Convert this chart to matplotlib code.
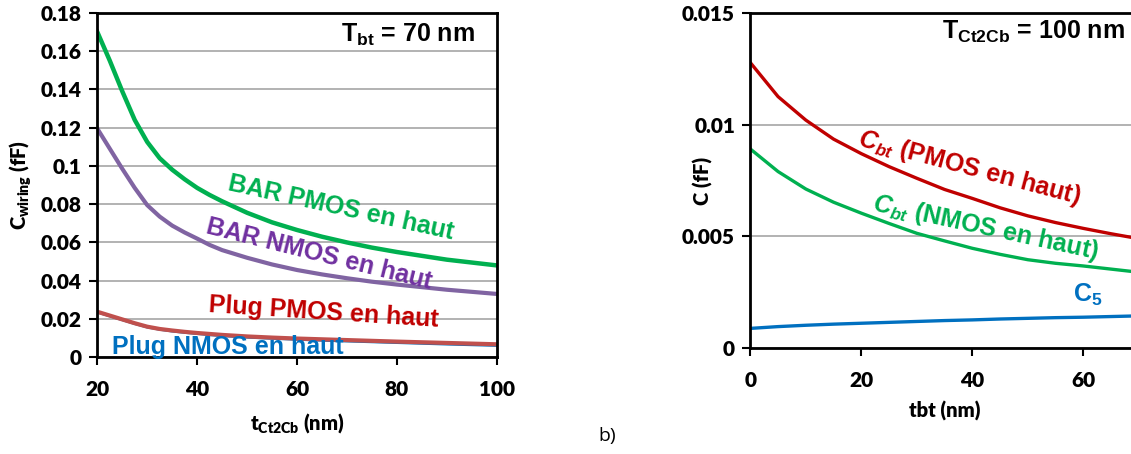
import matplotlib
matplotlib.use("Agg")
import matplotlib.pyplot as plt

plt.rcParams["mathtext.fontset"] = "custom"
plt.rcParams["mathtext.rm"] = "Liberation Sans:bold"
plt.rcParams["mathtext.bf"] = "Liberation Sans:bold"
plt.rcParams["mathtext.it"] = "Liberation Sans:italic:bold"

# ---- left panel: wiring capacitance vs t_Ct2Cb (T_bt = 70 nm)
t_ct2cb = [20, 22.5, 25, 27.5, 30, 32.5, 35, 37.5, 40, 42.5, 45, 50, 55, 60, 65,
           70, 75, 80, 90, 100]
bar_pmos = [0.170, 0.155, 0.139, 0.124, 0.1125, 0.104, 0.098, 0.093, 0.0885, 0.0848,
            0.0815, 0.0755, 0.0705, 0.0665, 0.063, 0.060, 0.0573, 0.055, 0.051, 0.048]
bar_nmos = [0.1195, 0.109, 0.0985, 0.0885, 0.0795, 0.0735, 0.0688, 0.0652, 0.062, 0.0587,
            0.056, 0.052, 0.0485, 0.0456, 0.0433, 0.0413, 0.0395, 0.038, 0.0353, 0.0331]
plug_pmos = [0.0238, 0.0218, 0.0198, 0.0178, 0.0160, 0.0148, 0.0140, 0.0133, 0.0127,
             0.0122, 0.0117, 0.0109, 0.0103, 0.0098, 0.0094, 0.0090, 0.0086, 0.0082,
             0.0075, 0.0068]
plug_nmos = [0.0235, 0.0215, 0.0195, 0.0175, 0.0157, 0.0145, 0.0136, 0.0129, 0.0123,
             0.0117, 0.0112, 0.0104, 0.0098, 0.0093, 0.0088, 0.0084, 0.0080, 0.0076,
             0.0068, 0.0061]
left_xticks = [20, 40, 60, 80, 100]
left_yticks = [0, 0.02, 0.04, 0.06, 0.08, 0.1, 0.12, 0.14, 0.16, 0.18]
left_yticklabels = ["0", "0.02", "0.04", "0.06", "0.08", "0.1", "0.12", "0.14", "0.16", "0.18"]

# ---- right panel: C vs tbt (T_Ct2Cb = 100 nm)
tbt = [0, 5, 10, 15, 20, 25, 30, 35, 40, 45, 50, 55, 60, 65, 70]
cbt_pmos = [0.01277, 0.01125, 0.01020, 0.00935, 0.00870, 0.00812, 0.00760, 0.00710,
            0.00670, 0.00628, 0.00592, 0.00562, 0.00536, 0.00512, 0.00490]
cbt_nmos = [0.00891, 0.00790, 0.00712, 0.00653, 0.00604, 0.00558, 0.00514, 0.00480,
            0.00447, 0.00420, 0.00396, 0.00380, 0.00368, 0.00354, 0.00340]
c5 = [0.00089, 0.00097, 0.00103, 0.00108, 0.00112, 0.00116, 0.00120, 0.00124,
      0.00127, 0.00131, 0.00134, 0.00137, 0.00139, 0.00142, 0.00145]
right_xticks = [0, 20, 40, 60]
right_yticks = [0, 0.005, 0.01, 0.015]
right_yticklabels = ["0", "0.005", "0.01", "0.015"]

TICK_FONT = dict(family="Lato", weight="heavy", size=15)
LABEL_FONT = dict(family="Lato", weight="heavy", size=14.5)
ANN = "Liberation Sans"
ANN_SIZE = 18

fig = plt.figure(figsize=(11.31, 4.54), dpi=100)

def style_axes(ax):
    for s in ax.spines.values():
        s.set_linewidth(2.0)
        s.set_color("black")
    ax.tick_params(direction="out", length=6, width=1.5)
    ax.tick_params(axis="x", pad=10)
    ax.tick_params(axis="y", pad=5)
    ax.set_axisbelow(True)

# left panel
axL = fig.add_axes([0.0860, 0.2130, 0.3532, 0.7590])
axL.plot(t_ct2cb, bar_pmos, color="#00B050", lw=3.2)
axL.plot(t_ct2cb, bar_nmos, color="#8064A2", lw=3.0)
axL.plot(t_ct2cb, plug_nmos, color="#0070C0", lw=1.8)
axL.plot(t_ct2cb, plug_pmos, color="#C0504D", lw=3.0)
axL.set_xlim(20, 100)
axL.set_ylim(0, 0.18)
axL.set_xticks(left_xticks)
axL.set_xticklabels([str(v) for v in left_xticks], **TICK_FONT)
axL.set_yticks(left_yticks)
axL.set_yticklabels(left_yticklabels, **TICK_FONT)
axL.yaxis.grid(True, color="#A6A6A6", lw=1.2)
style_axes(axL)
axL.set_xlabel(r"t$_{\mathregular{Ct2Cb}}$ (nm)", va="center", **LABEL_FONT)
axL.xaxis.set_label_coords(0.5, -0.19)
axL.set_ylabel(r"C$_{\mathregular{wiring}}$ (fF)", va="center", **LABEL_FONT)
axL.yaxis.set_label_coords(-0.19, 0.5)

axL.text(0.9457, 0.915, r"T$_{\mathregular{bt}}$ = 70 nm", transform=axL.transAxes, ha="right",
         va="baseline", family=ANN, weight="bold", size=ANN_SIZE)
axL.text(0.325, 0.4855, "BAR PMOS en haut", transform=axL.transAxes, color="#00B050",
         family=ANN, weight="bold", size=ANN_SIZE, rotation=-12.4, rotation_mode="anchor",
         va="baseline")
axL.text(0.27, 0.3607, "BAR NMOS en haut", transform=axL.transAxes, color="#7030A0",
         family=ANN, weight="bold", size=ANN_SIZE, rotation=-14, rotation_mode="anchor",
         va="baseline")
axL.text(0.2777, 0.131, "Plug PMOS en haut", transform=axL.transAxes, color="#C00000",
         family=ANN, weight="bold", size=ANN_SIZE, rotation=-3.7, rotation_mode="anchor",
         va="baseline")
axL.text(0.0376, 0.0096, "Plug NMOS en haut", transform=axL.transAxes, color="#0070C0",
         family=ANN, weight="bold", size=ANN_SIZE, va="baseline")

# right panel (its x axis runs on past the right edge of the figure)
axR = fig.add_axes([0.6634, 0.2328, 0.3926, 0.7392])
axR.plot(tbt, cbt_pmos, color="#C00000", lw=2.4)
axR.plot(tbt, cbt_nmos, color="#00B050", lw=2.4)
axR.plot(tbt, c5, color="#0070C0", lw=2.4)
axR.set_xlim(0, 80)
axR.set_ylim(0, 0.015)
axR.set_xticks(right_xticks)
axR.set_xticklabels([str(v) for v in right_xticks], **TICK_FONT)
axR.set_yticks(right_yticks)
axR.set_yticklabels(right_yticklabels, **TICK_FONT)
axR.yaxis.grid(True, color="#A6A6A6", lw=1.2)
style_axes(axR)
axR.set_xlabel("tbt (nm)", va="center", **LABEL_FONT)
axR.xaxis.set_label_coords(0.4385, -0.187)
axR.set_ylabel("C (fF)", va="center", **LABEL_FONT)
axR.yaxis.set_label_coords(-0.1065, 0.5)

axR.text(0.844, 0.9216, r"T$_{\mathregular{Ct2Cb}}$ = 100 nm", transform=axR.transAxes,
         ha="right", va="baseline", family=ANN, weight="bold", size=ANN_SIZE)
axR.text(0.240, 0.6058, r"$C_{bt}$ (PMOS en haut)", transform=axR.transAxes, color="#C00000",
         family=ANN, weight="bold", size=ANN_SIZE, rotation=-14.9, rotation_mode="anchor",
         va="baseline")
axR.text(0.274, 0.412, r"$C_{bt}$ (NMOS en haut)", transform=axR.transAxes, color="#00B050",
         family=ANN, weight="bold", size=ANN_SIZE, rotation=-12.3, rotation_mode="anchor",
         va="baseline")
axR.text(0.727, 0.138, r"C$_{\mathregular{5}}$", transform=axR.transAxes, color="#0070C0",
         family=ANN, weight="bold", size=ANN_SIZE, va="baseline")

fig.text(0.537, 0.04, "b)", family="Open Sans", size=14, ha="center", va="center")

fig.savefig("out.png", dpi=100)
